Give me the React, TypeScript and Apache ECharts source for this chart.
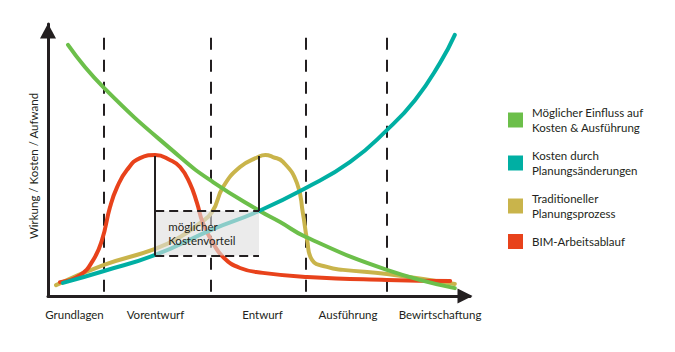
import React, { useEffect, useRef } from "react";
import * as echarts from "echarts";

// ---- data (x: 0–100 project timeline, y: 0–100 relative effect) ----
const seriesNames = [
  "Möglicher Einfluss auf\nKosten & Ausführung",
  "Kosten durch\nPlanungsänderungen",
  "Traditioneller\nPlanungsprozess",
  "BIM-Arbeitsablauf",
];
const seriesColors = ["#6cbf4a", "#00afa3", "#c9b44b", "#e8421b"];

const influenceData = [
  [4.74, 92.3], [13.27, 76.5], [31.3, 51.1], [39.1, 41.9], [50.2, 31.25],
  [55.0, 27.2], [61.1, 21.7], [80.3, 9.6], [96.4, 2.9],
];
const changeCostData = [
  [3.55, 4.8], [13.27, 9.2], [25.4, 15.1], [39.1, 24.6], [50.0, 31.25],
  [61.1, 39.7], [71.6, 49.3], [80.3, 61.0], [87.0, 72.1], [92.9, 85.7], [96.4, 96.0],
];
const traditionalData = [
  [1.9, 4.0], [13.27, 11.4], [25.4, 17.3], [31.3, 21.7], [36.0, 26.8], [38.9, 30.9],
  [41.5, 40.1], [45.5, 47.4], [49.8, 51.1], [51.5, 51.8], [53.3, 51.1], [55.7, 49.3],
  [59.0, 41.5], [60.4, 30.5], [61.4, 20.6], [62.6, 13.2], [66.1, 10.7], [69.9, 9.6],
  [80.3, 8.1], [96.4, 4.4],
];
const bimData = [
  [2.84, 5.1], [7.6, 7.7], [10.7, 13.2], [12.8, 20.6], [14.7, 32.7], [16.4, 40.1],
  [18.7, 46.3], [21.8, 50.7], [25.4, 51.8], [28.9, 50.0], [31.3, 47.4], [33.6, 41.5],
  [35.3, 34.2], [36.7, 26.8], [39.1, 19.5], [41.5, 14.3], [45.5, 10.3], [50.9, 8.5],
  [61.4, 7.0], [80.3, 5.9], [95.3, 5.5],
];

const phaseLabels = ["Grundlagen", "Vorentwurf", "Entwurf", "Ausführung", "Bewirtschaftung"];
const phaseLabelPositions = [6.28, 25.47, 50.83, 71.1, 92.9];
const phaseBoundaries = [13.27, 38.63, 61.14, 80.33];
const phaseLineTop = 94.9;

const advantageX = [25.4, 50.0]; // left / right of the cost advantage box
const advantageY = [14.9, 31.25]; // bottom / top of the cost advantage box
const peakValue = 51.5;
const advantageText = "möglicher\nKostenvorteil";
const yAxisTitle = "Wirkung / Kosten / Aufwand";

const FONT = "Lato";
const INK = "#231f20";

export default function App() {
  const ref = useRef<HTMLDivElement>(null);
  useEffect(() => {
    if (!ref.current) return;
    document.body.style.margin = "0";
    const chart = echarts.init(ref.current, undefined, { renderer: "svg" });
    const curves = [influenceData, changeCostData, traditionalData, bimData];
    const zOrder = [4, 5, 2, 3];
    const lineSeries = curves.map((d, i) => ({
      type: "line",
      name: seriesNames[i],
      data: d,
      smooth: 0.5,
      showSymbol: false,
      z: zOrder[i],
      color: seriesColors[i],
      lineStyle: { width: 4, color: seriesColors[i], cap: "round" },
      itemStyle: { color: seriesColors[i] },
    }));

    const phaseLines = phaseBoundaries.map((x) => [
      { coord: [x, phaseLineTop] },
      { coord: [x, 0] },
    ]);

    chart.setOption({
      animation: false,
      textStyle: { fontFamily: FONT },
      grid: { left: 48, right: 205, top: 24, bottom: 56, containLabel: false },
      legend: {
        orient: "vertical",
        left: 508,
        top: 105,
        padding: 0,
        icon: "rect",
        itemWidth: 15,
        itemHeight: 15,
        itemGap: 13,
        data: seriesNames,
        selectedMode: false,
        textStyle: { fontFamily: FONT, fontSize: 11.5, color: INK, lineHeight: 15, padding: [0, 0, 0, 4] },
      },
      xAxis: {
        type: "value",
        min: 0,
        max: 100,
        splitLine: { show: false },
        axisTick: { show: false },
        axisLine: {
          show: true,
          lineStyle: { color: INK, width: 3 },
          symbol: ["none", "triangle"],
          symbolSize: [15, 15],
          symbolOffset: [0, -5],
        },
        axisLabel: {
          customValues: phaseLabelPositions,
          formatter: (v: number) => {
            const i = phaseLabelPositions.findIndex((p) => Math.abs(p - v) < 1e-6);
            return i >= 0 ? phaseLabels[i] : "";
          },
          margin: 12,
          fontFamily: FONT,
          fontSize: 11.5,
          color: INK,
        },
      },
      yAxis: {
        type: "value",
        min: 0,
        max: 100,
        splitLine: { show: false },
        axisTick: { show: false },
        axisLabel: { show: false },
        axisLine: {
          show: true,
          lineStyle: { color: INK, width: 3 },
          symbol: ["none", "triangle"],
          symbolSize: [16, 15],
          symbolOffset: [0, -7],
        },
        name: yAxisTitle,
        nameLocation: "middle",
        nameGap: 9,
        nameTextStyle: { fontFamily: FONT, fontSize: 11.5, color: INK, padding: [0, 12, 0, 0] },
      },
      series: [
        ...lineSeries,
        {
          type: "line",
          name: "phases",
          data: [],
          z: 1,
          markLine: {
            silent: true,
            symbol: ["none", "none"],
            label: { show: false },
            z: 1,
            lineStyle: { color: INK, width: 2, type: [12, 10] },
            data: phaseLines,
          },
        },
        {
          type: "line",
          name: "advantage",
          data: [],
          z: 10,
          markArea: {
            silent: true,
            z: 10,
            itemStyle: { color: "rgba(222,222,222,0.62)" },
            label: {
              show: true,
              position: "insideLeft",
              distance: 13,
              formatter: advantageText,
              fontFamily: FONT,
              fontSize: 11.5,
              lineHeight: 14,
              color: INK,
            },
            data: [[{ coord: [advantageX[0], advantageY[1]] }, { coord: [advantageX[1], advantageY[0]] }]],
          },
          markLine: {
            silent: true,
            z: 11,
            symbol: ["none", "none"],
            label: { show: false },
            data: [
              [
                { coord: [advantageX[0], peakValue], lineStyle: { color: INK, width: 2, type: "solid" } },
                { coord: [advantageX[0], advantageY[0]] },
              ],
              [
                { coord: [advantageX[1], peakValue], lineStyle: { color: INK, width: 2, type: "solid" } },
                { coord: [advantageX[1], advantageY[1]] },
              ],
              [
                { coord: [advantageX[0], advantageY[1]], lineStyle: { color: INK, width: 2, type: [9, 5] } },
                { coord: [advantageX[1], advantageY[1]] },
              ],
              [
                { coord: [advantageX[0], advantageY[0]], lineStyle: { color: INK, width: 2, type: [9, 5] } },
                { coord: [advantageX[1], advantageY[0]] },
              ],
            ],
          },
        },
      ],
    });
    return () => chart.dispose();
  }, []);
  return <div ref={ref} style={{ width: 675, height: 352 }} />;
}
